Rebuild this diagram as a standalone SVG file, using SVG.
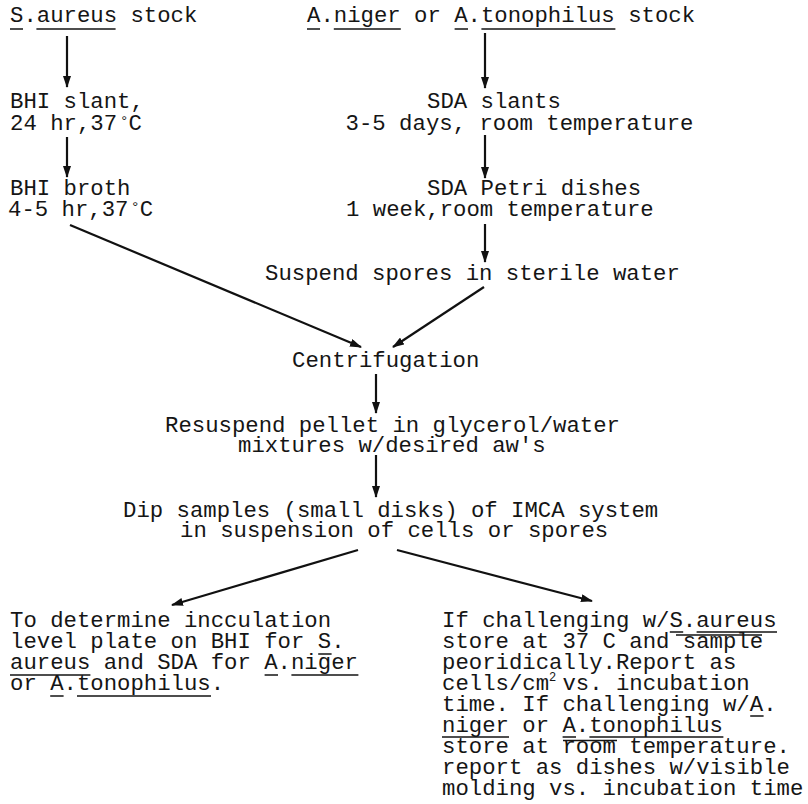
<svg xmlns="http://www.w3.org/2000/svg" width="808" height="804" viewBox="0 0 808 804">
<defs>
<style>
.t{font-family:"Liberation Mono","Courier New",monospace;font-size:22.3px;fill:#151515}
.u{stroke:#151515;stroke-width:1.6;fill:none}
.c{stroke:#111;stroke-width:2.2;fill:none}
</style>
<marker id="ah" viewBox="0 0 12 8" refX="11" refY="4" markerWidth="12" markerHeight="8" markerUnits="userSpaceOnUse" orient="auto">
<path d="M0,0 L12,4 L0,8 z" fill="#111"/>
</marker>
</defs>
<rect width="808" height="804" fill="#fff"/>
<g id="n-saureus-stock">
<text class="t" x="10" y="22">S.aureus stock</text>
<path class="u" d="M10,29 H23 M36.4,29 H115.6"/>
</g>
<g id="n-aniger-stock">
<text class="t" x="307" y="22">A.niger or A.tonophilus stock</text>
<path class="u" d="M307,29 H320 M333.8,29 H400.8 M454.6,29 H468 M481.4,29 H615.4"/>
</g>
<g id="n-bhi-slant">
<text class="t" x="10" y="108">BHI slant,</text>
<text class="t" x="10" y="130">24 hr,37<tspan font-size="5"> </tspan><tspan font-size="14" dy="-4">°</tspan><tspan dy="4">C</tspan></text>
</g>
<g id="n-sda-slants">
<text class="t" x="427" y="108">SDA slants</text>
<text class="t" x="345.6" y="130">3-5 days, room temperature</text>
</g>
<g id="n-bhi-broth">
<text class="t" x="10" y="195">BHI broth</text>
<text class="t" x="8" y="216">4-5 hr,37<tspan font-size="4"> </tspan><tspan font-size="15" dy="-4">°</tspan><tspan dy="4">C</tspan></text>
</g>
<g id="n-sda-petri">
<text class="t" x="427" y="195">SDA Petri dishes</text>
<text class="t" x="346" y="216">1 week,room temperature</text>
</g>
<g id="n-suspend">
<text class="t" x="265" y="280">Suspend spores in sterile water</text>
</g>
<g id="n-centrifugation">
<text class="t" x="292" y="367">Centrifugation</text>
</g>
<g id="n-resuspend">
<text class="t" x="165" y="432">Resuspend pellet in glycerol/water</text>
<text class="t" x="238" y="452">mixtures w/desired aw's</text>
</g>
<g id="n-dip">
<text class="t" x="123" y="517">Dip samples (small disks) of IMCA system</text>
<text class="t" x="180" y="537">in suspension of cells or spores</text>
</g>
<g id="n-plate">
<text class="t" x="10" y="627">To determine incculation</text>
<text class="t" x="10" y="648">level plate on BHI for S.</text>
<text class="t" x="10" y="669">aureus and SDA for A.niger</text>
<text class="t" x="10" y="690">or A.tonophilus.</text>
<path class="u" d="M318.2,654 H331.6 M10,675 H90.4 M264.6,675 H278 M291.4,675 H358.4 M50.2,696 H63.6 M77,696 H211"/>
</g>
<g id="n-challenge">
<text class="t" x="442" y="627">If challenging w/S.aureus</text>
<text class="t" x="442" y="648">store at 37 C and sample</text>
<text class="t" x="442" y="669">peoridically.Report as</text>
<text class="t" x="442" y="690">cells/cm<tspan font-size="12" dy="-9">2</tspan><tspan dy="9" dx="-7.2"> vs. incubation</tspan></text>
<text class="t" x="442" y="711">time. If challenging w/A.</text>
<text class="t" x="442" y="732">niger or A.tonophilus</text>
<text class="t" x="442" y="753">store at room temperature.</text>
<text class="t" x="442" y="774">report as dishes w/visible</text>
<text class="t" x="442" y="795">molding vs. incubation time</text>
<path class="u" d="M669.8,632 H683.2 M696.6,632 H777 M676,635 H762 M750.2,716 H763.6 M442,737 H509 M562.6,737 H576 M589.4,737 H723.4 M563,740.5 H617"/>
</g>
<g id="connectors">
<path class="c" d="M67,36 V87" marker-end="url(#ah)"/>
<path class="c" d="M67,137 V177" marker-end="url(#ah)"/>
<path class="c" d="M485,33 V88" marker-end="url(#ah)"/>
<path class="c" d="M485,135 V178" marker-end="url(#ah)"/>
<path class="c" d="M485,224 V262" marker-end="url(#ah)"/>
<path class="c" d="M70,225 L361,347" marker-end="url(#ah)"/>
<path class="c" d="M484,287 L393,347" marker-end="url(#ah)"/>
<path class="c" d="M376,374 V413" marker-end="url(#ah)"/>
<path class="c" d="M376,455 V497" marker-end="url(#ah)"/>
<path class="c" d="M358,550 L172,605" marker-end="url(#ah)"/>
<path class="c" d="M397,550 L592,601" marker-end="url(#ah)"/>
</g>
</svg>
